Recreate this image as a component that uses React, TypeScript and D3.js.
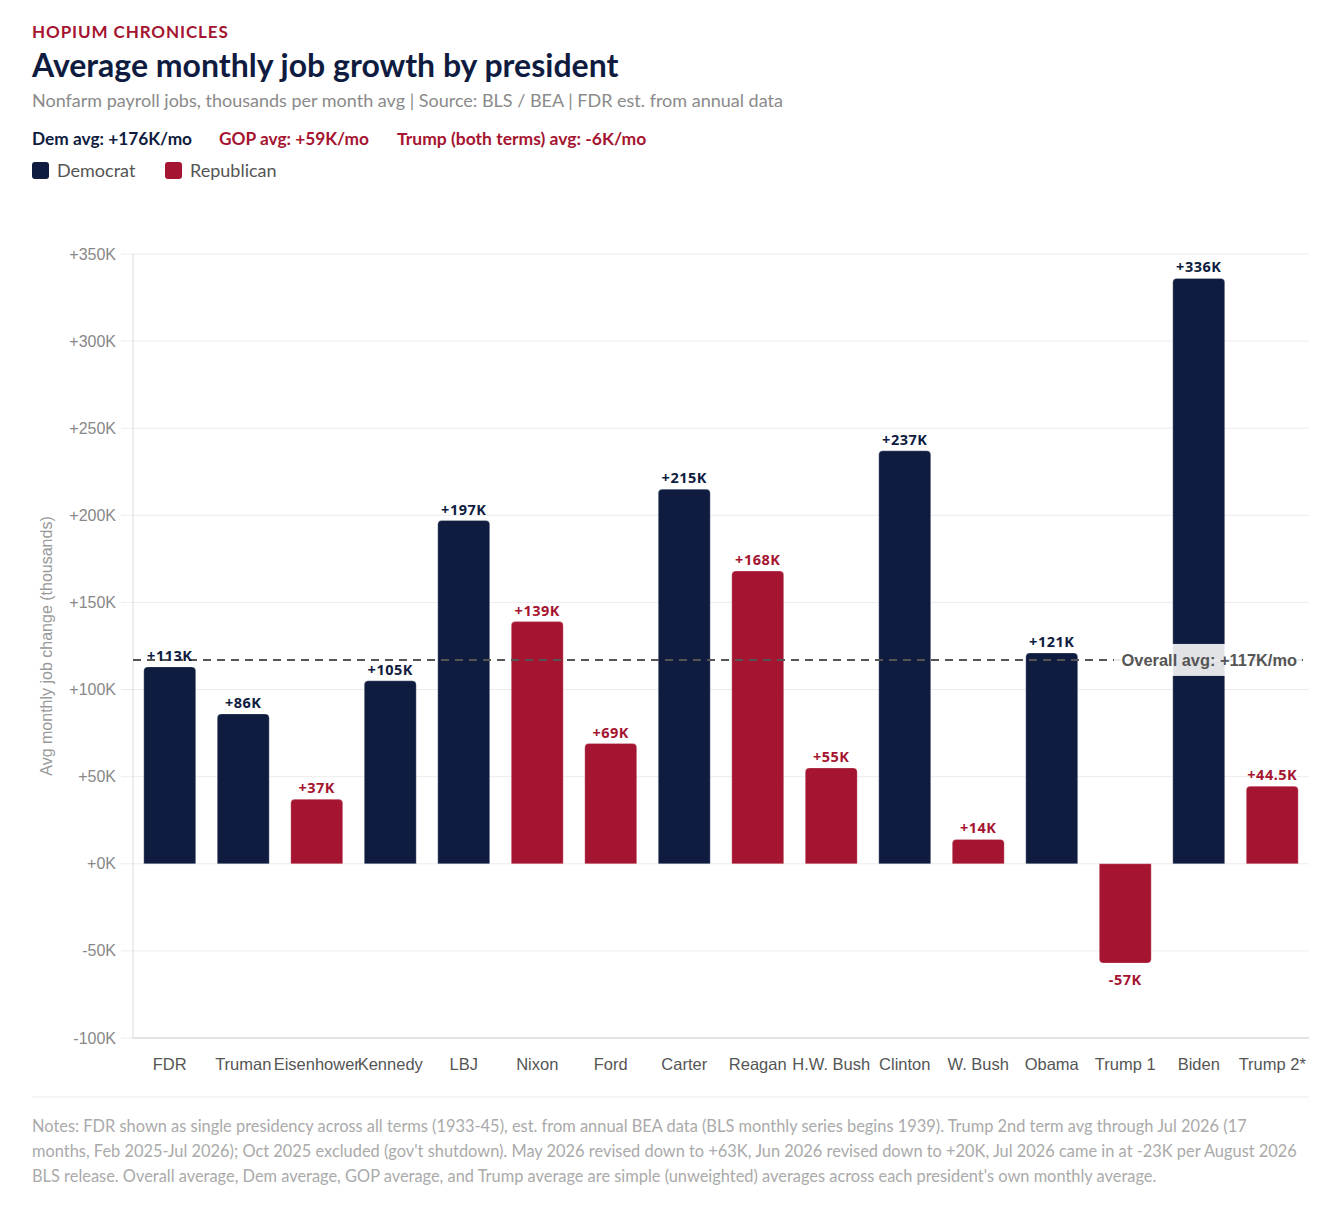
import * as d3 from "d3";

// ── Data ──────────────────────────────────────────────────────
const presidents = [
  "FDR", "Truman", "Eisenhower", "Kennedy", "LBJ", "Nixon", "Ford", "Carter",
  "Reagan", "H.W. Bush", "Clinton", "W. Bush", "Obama", "Trump 1", "Biden", "Trump 2*",
];
const parties = ["D", "D", "R", "D", "D", "R", "R", "D", "R", "R", "D", "R", "D", "R", "D", "R"];
const avgJobs = [113, 86, 37, 105, 197, 139, 69, 215, 168, 55, 237, 14, 121, -57, 336, 44.5];
const yTicks = [-100, -50, 0, 50, 100, 150, 200, 250, 300, 350];
const OVERALL_AVG = 117;

const noteLines = [
  "Notes: FDR shown as single presidency across all terms (1933-45), est. from annual BEA data (BLS monthly series begins 1939). Trump 2nd term avg through Jul 2026 (17",
  "months, Feb 2025-Jul 2026); Oct 2025 excluded (gov't shutdown). May 2026 revised down to +63K, Jun 2026 revised down to +20K, Jul 2026 came in at -23K per August 2026",
  "BLS release. Overall average, Dem average, GOP average, and Trump average are simple (unweighted) averages across each president's own monthly average.",
];

// ── Style ─────────────────────────────────────────────────────
const W = 1338, H = 1228;
const NAVY = "#0f1c3f";
const RED = "#a51430";
const HEAD = "Lato, 'Noto Sans', sans-serif";
const AXIS = "'Liberation Sans', Arial, sans-serif";

const M = { left: 133, right: 1309, top: 254, bottom: 1038 };

function fmtK(v: number) {
  const s = Number.isInteger(v) ? String(v) : v.toFixed(1);
  return (v >= 0 ? "+" : "") + s + "K";
}

// bar path with rounded corners away from zero
function barPath(x: number, w: number, y0: number, y1: number, r: number) {
  const top = Math.min(y0, y1), bot = Math.max(y0, y1);
  const rr = Math.min(r, (bot - top) / 2);
  if (y1 < y0) {
    return `M${x},${bot}V${top + rr}Q${x},${top} ${x + rr},${top}H${x + w - rr}Q${x + w},${top} ${x + w},${top + rr}V${bot}Z`;
  }
  return `M${x},${top}V${bot - rr}Q${x},${bot} ${x + rr},${bot}H${x + w - rr}Q${x + w},${bot} ${x + w},${bot - rr}V${top}Z`;
}

export default function App() {
  const x = d3.scaleBand<string>()
    .domain(presidents)
    .range([M.left, M.right])
    .paddingInner(0.28)
    .paddingOuter(0.14);
  const y = d3.scaleLinear().domain([-100, 350]).range([M.bottom, M.top]);
  const y0 = y(0);
  const bw = x.bandwidth();
  const avgY = y(OVERALL_AVG);

  return (
    <svg width={W} height={H} viewBox={`0 0 ${W} ${H}`}
      style={{ position: "absolute", left: 0, top: 0, background: "#fff" }}>
      {/* header */}
      <text x={32} y={38} fontFamily={HEAD} fontWeight={700} fontSize={17} letterSpacing={0.9} fill={RED}>
        HOPIUM CHRONICLES
      </text>
      <text x={32} y={77} fontFamily={HEAD} fontWeight={700} fontSize={32} fill={NAVY}>
        Average monthly job growth by president
      </text>
      <text x={32} y={107} fontFamily={HEAD} fontSize={18} fill="#8a8a8a">
        Nonfarm payroll jobs, thousands per month avg | Source: BLS / BEA | FDR est. from annual data
      </text>
      <text x={32} y={145} fontFamily={HEAD} fontWeight={700} fontSize={17.3} fill={NAVY}>Dem avg: +176K/mo</text>
      <text x={219} y={145} fontFamily={HEAD} fontWeight={700} fontSize={17.3} fill={RED}>GOP avg: +59K/mo</text>
      <text x={397} y={145} fontFamily={HEAD} fontWeight={700} fontSize={17.5} fill={RED}>Trump (both terms) avg: -6K/mo</text>

      {/* legend */}
      <rect x={32} y={162} width={17} height={17} rx={3} fill={NAVY} />
      <text x={57} y={177} fontFamily={HEAD} fontSize={18} fill="#555">Democrat</text>
      <rect x={165} y={162} width={17} height={17} rx={3} fill={RED} />
      <text x={190} y={177} fontFamily={HEAD} fontSize={18} fill="#555">Republican</text>

      {/* grid + y axis */}
      {yTicks.map((t) => (
        <g key={t}>
          <line x1={M.left - 12} x2={M.right} y1={y(t)} y2={y(t)} stroke="#ececec" strokeWidth={1} />
          <text x={116} y={y(t)} dy="0.35em" textAnchor="end" fontFamily={AXIS} fontSize={16} fill="#888">
            {fmtK(t)}
          </text>
        </g>
      ))}
      <line x1={M.left} x2={M.left} y1={M.top} y2={M.bottom} stroke="#dcdcdc" />
      <line x1={M.left} x2={M.right} y1={M.bottom} y2={M.bottom} stroke="#dcdcdc" strokeWidth={1.5} />
      <text transform={`translate(52,${(M.top + M.bottom) / 2}) rotate(-90)`} textAnchor="middle"
        fontFamily={AXIS} fontSize={16} fill="#999">
        Avg monthly job change (thousands)
      </text>

      {/* bars */}
      {presidents.map((p, i) => {
        const v = avgJobs[i];
        const bx = x(p) as number;
        const c = parties[i] === "D" ? NAVY : RED;
        return (
          <path key={p} d={barPath(bx + 0.5, bw - 1, y0, y(v), 4)} fill={c}
            stroke="rgba(255,255,255,0.25)" strokeWidth={1} />
        );
      })}

      {/* x labels */}
      {presidents.map((p) => (
        <text key={p} x={(x(p) as number) + bw / 2} y={1070} textAnchor="middle"
          fontFamily={AXIS} fontSize={16.5} fill="#555">
          {p}
        </text>
      ))}

      {/* overall average line */}
      <line x1={M.left} x2={M.right} y1={avgY} y2={avgY} stroke="#555" strokeWidth={2} strokeDasharray="8,6" />
      <rect x={1114} y={avgY - 16} width={188} height={32} fill="rgba(255,255,255,0.88)" />
      <text x={1297} y={avgY} dy="0.35em" textAnchor="end" fontFamily={AXIS} fontWeight={700}
        fontSize={16.4} fill="#555">
        Overall avg: +117K/mo
      </text>

      {/* value labels */}
      {presidents.map((p, i) => {
        const v = avgJobs[i];
        const cx = (x(p) as number) + bw / 2;
        const c = parties[i] === "D" ? NAVY : RED;
        return (
          <text key={p} x={cx} y={v >= 0 ? y(v) - 6 : y(v) + 22} textAnchor="middle"
            fontFamily="'Noto Sans', sans-serif" fontWeight={700} fontSize={14.5} letterSpacing={0.5} fill={c}>
            {fmtK(v)}
          </text>
        );
      })}

      {/* notes */}
      <line x1={32} x2={M.right} y1={1097} y2={1097} stroke="#ebebeb" />
      {noteLines.map((l, i) => (
        <text key={i} x={32} y={1132 + i * 25} fontFamily={HEAD} fontSize={16.4} fill="#aaa">{l}</text>
      ))}
    </svg>
  );
}
